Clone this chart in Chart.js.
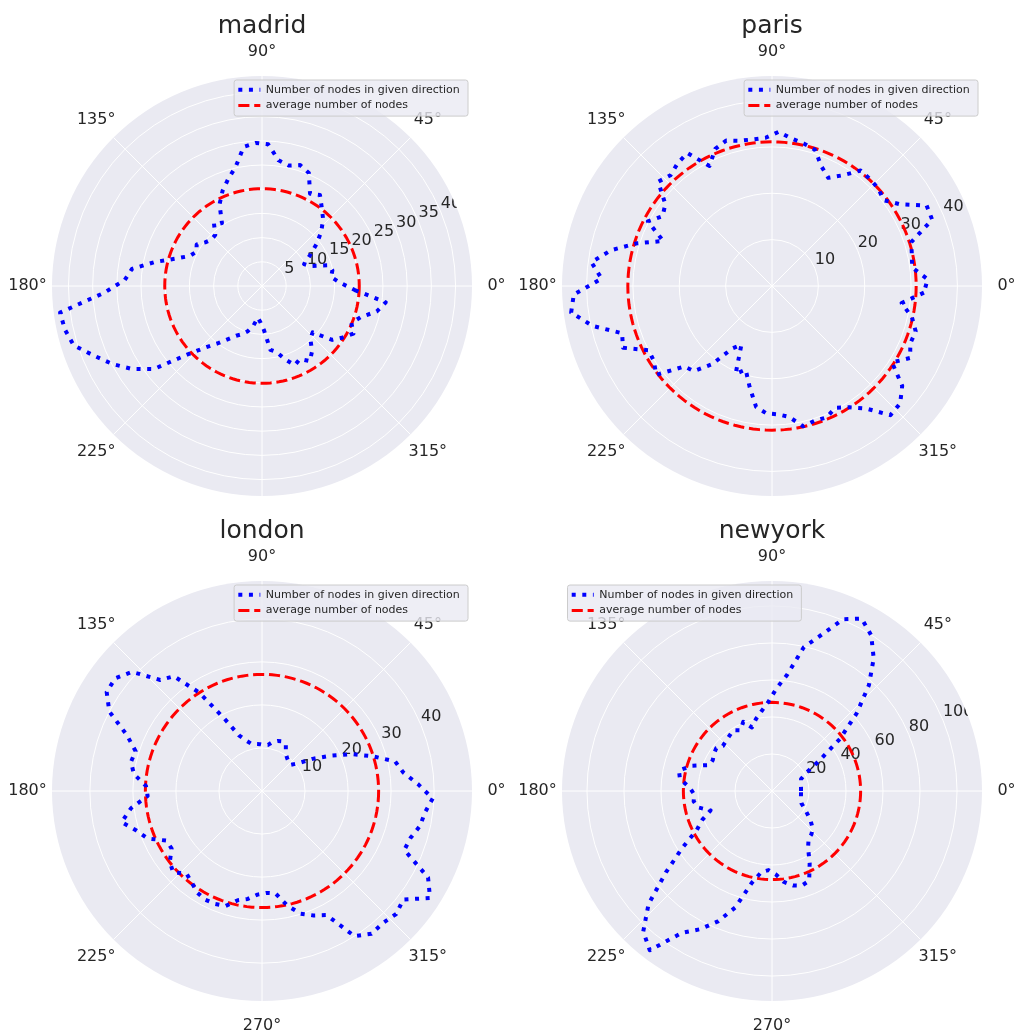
<!DOCTYPE html>
<html>
<head>
<meta charset="utf-8">
<title>nodes per direction</title>
<script src="https://cdn.jsdelivr.net/npm/chart.js@4.4.1/dist/chart.umd.min.js"></script>
<style>
  html, body { margin: 0; padding: 0; background: #ffffff; }
  #page { position: relative; width: 1015px; height: 1032px; overflow: hidden; }
  #page canvas { position: absolute; }
</style>
</head>
<body>
<div id="page">
  <canvas id="madrid" width="510" height="505" style="left:0;top:0"></canvas>
  <canvas id="paris" width="505" height="505" style="left:510px;top:0"></canvas>
  <canvas id="london" width="510" height="527" style="left:0;top:505px"></canvas>
  <canvas id="newyork" width="505" height="527" style="left:510px;top:505px"></canvas>
</div>
<script>
"use strict";

// direction bins (bin centres, degrees, counter-clockwise from east)
const bins = [2.5, 7.5, 12.5, 17.5, 22.5, 27.5, 32.5, 37.5, 42.5, 47.5, 52.5, 57.5,
    62.5, 67.5, 72.5, 77.5, 82.5, 87.5, 92.5, 97.5, 102.5, 107.5, 112.5, 117.5,
    122.5, 127.5, 132.5, 137.5, 142.5, 147.5, 152.5, 157.5, 162.5, 167.5, 172.5, 177.5,
    182.5, 187.5, 192.5, 197.5, 202.5, 207.5, 212.5, 217.5, 222.5, 227.5, 232.5, 237.5,
    242.5, 247.5, 252.5, 257.5, 262.5, 267.5, 272.5, 277.5, 282.5, 287.5, 292.5, 297.5,
    302.5, 307.5, 312.5, 317.5, 322.5, 327.5, 332.5, 337.5, 342.5, 347.5, 352.5, 357.5];

const madridNodes = [16.1, 14.4, 14.9, 14.2, 10.8, 9.8, 11.7, 14.2, 16.6, 18.7, 20.3, 22.3,
    21.5, 25.3, 26.2, 25.5, 26.2, 29.3, 29.6, 29.0, 25.2, 23.2, 21.3, 19.0,
    15.4, 16.3, 14.3, 14.2, 14.8, 16.0, 15.3, 16.2, 18.8, 22.8, 27.1, 28.4,
    32.7, 42.1, 41.7, 40.8, 37.6, 34.9, 31.9, 28.2, 21.0, 17.2, 14.9, 13.0,
    11.6, 10.8, 9.8, 8.5, 6.6, 7.5, 9.1, 13.3, 14.0, 15.9, 17.7, 17.0,
    18.4, 17.0, 14.8, 14.2, 18.3, 19.8, 21.3, 20.0, 21.4, 24.3, 25.8, 19.2];
const madridAvg = 20.1;

const parisNodes = [33.6, 30.5, 30.9, 31.5, 37.4, 37.6, 32.8, 30.4, 31.1, 31.3, 31.4, 28.3,
    26.3, 27.9, 30.8, 31.5, 32.1, 33.3, 32.0, 31.9, 32.1, 32.9, 32.0, 29.2,
    34.0, 33.4, 32.4, 33.3, 29.0, 28.0, 30.2, 25.4, 30.6, 35.6, 39.3, 36.8,
    42.8, 43.7, 39.7, 33.9, 34.8, 30.0, 30.2, 31.5, 25.7, 24.9, 21.3, 16.0,
    14.3, 20.5, 18.9, 22.3, 26.3, 27.5, 27.7, 28.5, 31.0, 30.5, 30.7, 29.6,
    31.0, 33.3, 37.8, 37.5, 35.4, 30.7, 33.6, 32.3, 32.5, 30.9, 28.2, 32.8];
const parisAvg = 31.1;

const londonNodes = [36.3, 33.1, 31.7, 26.9, 22.4, 17.7, 13.9, 10.6, 9.0, 9.2, 9.6, 10.3,
    12.0, 12.5, 12.2, 11.7, 10.8, 10.7, 10.9, 11.0, 11.2, 12.3, 14.0, 19.0,
    27.1, 33.6, 35.0, 41.0, 43.0, 42.8, 40.0, 34.0, 30.8, 31.2, 30.0, 27.0,
    26.6, 30.7, 33.4, 30.6, 28.8, 25.0, 24.9, 27.0, 28.0, 26.0, 26.8, 28.0,
    28.5, 28.4, 28.0, 26.0, 25.3, 24.1, 23.7, 24.0, 27.3, 29.9, 31.3, 32.5,
    40.0, 41.8, 41.6, 42.3, 41.4, 46.3, 43.5, 35.8, 36.2, 37.6, 38.2, 39.7];
const londonAvg = 27.1;

const newyorkNodes = [15.7, 15.8, 16.0, 16.5, 17.0, 20.5, 30.0, 46.3, 62.0, 77.5, 90.3, 99.8,
    105.0, 100.5, 88.4, 79.7, 63.5, 55.5, 48.0, 43.5, 39.9, 36.0, 40.5, 37.0,
    39.0, 37.7, 36.8, 36.0, 38.0, 37.2, 36.1, 36.6, 45.3, 51.5, 50.2, 44.6,
    42.1, 42.7, 41.0, 34.8, 40.8, 45.9, 57.7, 72.3, 90.5, 103.0, 108.5, 91.0,
    84.2, 76.3, 66.0, 51.0, 44.2, 42.8, 45.0, 49.6, 52.3, 53.6, 52.5, 44.1,
    36.3, 32.5, 31.6, 29.8, 26.3, 22.5, 19.5, 17.2, 16.3, 16.0, 15.8, 15.7];
const newyorkAvg = 47.9;

const madridTicks = [5, 10, 15, 20, 25, 30, 35, 40];
const parisTicks = [10, 20, 30, 40];
const londonTicks = [10, 20, 30, 40];
const newyorkTicks = [20, 40, 60, 80, 100];

const thetaTicks = [0, 45, 90, 135, 180, 225, 270, 315];
const thetaTickLabels = ["0°", "45°", "90°", "135°", "180°", "225°", "270°", "315°"];

const seriesLabel = "Number of nodes in given direction";
const avgLabel = "average number of nodes";

// ---------------------------------------------------------------------------

const TEXT = "#262626";
const STEP = 2.5;                    // angular resolution of the radar slots
const SLOTS = 360 / STEP;
const RLABEL_ANGLE = 22.5;
const LEG_PAD = 4.7;

Chart.defaults.font.family = "'DejaVu Sans', sans-serif";

// slot index -> direction; radar runs clockwise from east, matplotlib counter-clockwise
const slotOf = deg => Math.round(((360 - deg) % 360) / STEP) % SLOTS;
const slotLabels = Array.from({ length: SLOTS }, (_, j) => String((360 - j * STEP) % 360));

function toSlots(values) {
    const out = new Array(SLOTS).fill(null);
    bins.forEach((deg, k) => { out[slotOf(deg)] = values[k]; });
    return out;
}

const polarText = {
    id: "polarText",
    beforeDraw(chart) {
        const r = chart.scales.r;
        const ctx = chart.ctx;
        ctx.save();
        ctx.font = "16px 'DejaVu Sans'";
        ctx.fillStyle = TEXT;
        ctx.textAlign = "center";
        ctx.textBaseline = "middle";
        thetaTicks.forEach((deg, i) => {
            const p = r.getPointPosition(slotOf(deg), r.drawingArea + 24.5);
            ctx.fillText(thetaTickLabels[i], p.x, p.y);
        });
        ctx.restore();
    },
    beforeDatasetsDraw(chart, args, opts) {
        const r = chart.scales.r;
        const ctx = chart.ctx;
        ctx.save();
        ctx.beginPath();
        ctx.arc(r.xCenter, r.yCenter, r.drawingArea, 0, Math.PI * 2);
        ctx.clip();
        ctx.font = "16px 'DejaVu Sans'";
        ctx.fillStyle = TEXT;
        ctx.textAlign = "left";
        ctx.textBaseline = "bottom";
        opts.ticks.forEach(v => {
            const p = r.getPointPosition(slotOf(RLABEL_ANGLE), r.getDistanceFromCenterForValue(v));
            ctx.fillText(String(v), p.x, p.y);
        });
        ctx.restore();
    },
    afterLayout(chart, args, opts) {
        const r = chart.scales.r;
        const lg = chart.legend;
        if (!lg || !lg.columnSizes || !lg.columnSizes.length) return;
        const w = LEG_PAD + lg.columnSizes[0].width + 3.3 + 4.4;
        const h = 3 * LEG_PAD + 22;
        const x = opts.legendSide === "left"
            ? r.xCenter - r.drawingArea + 5
            : r.xCenter + r.drawingArea - 4.5 - w;
        const y = r.yCenter - r.drawingArea + 3.5;
        lg.left = x; lg.right = x + lg.width;
        lg.top = y; lg.bottom = y + 200;
        lg._frame = { x, y, w, h };
        if (!lg._framed) {
            const baseDraw = lg.draw;
            lg.draw = function (area) {
                const f = this._frame;
                const c = this.ctx;
                c.save();
                c.beginPath();
                if (c.roundRect) c.roundRect(f.x + 0.5, f.y + 0.5, f.w, f.h, 2.5);
                else c.rect(f.x + 0.5, f.y + 0.5, f.w, f.h);
                c.fillStyle = "rgba(234, 234, 242, 0.8)";
                c.fill();
                c.lineWidth = 1;
                c.strokeStyle = "#cccccc";
                c.stroke();
                c.restore();
                baseDraw.call(this, area);
            };
            lg._framed = true;
        }
    }
};

function legendItems(chart) {
    return chart.data.datasets.map((ds, i) => ({
        text: ds.label,
        fillStyle: "rgba(0,0,0,0)",
        strokeStyle: ds.borderColor,
        lineWidth: ds.borderWidth,
        lineDash: ds.borderDash,
        lineCap: "butt",
        pointStyle: "line",
        fontColor: TEXT,
        hidden: false,
        datasetIndex: i
    }));
}

function drawCity(canvasId, title, nodes, avg, max, ticks, legendSide) {
    const canvas = document.getElementById(canvasId);
    const cw = canvas.width;
    const ch = canvas.height;
    return new Chart(canvas.getContext("2d"), {
        type: "radar",
        data: {
            labels: slotLabels,
            datasets: [
                {
                    label: seriesLabel,
                    data: toSlots(nodes),
                    borderColor: "#0000ff",
                    borderWidth: 4,
                    borderDash: [4, 6.6],
                    borderCapStyle: "butt",
                    borderJoinStyle: "round",
                    backgroundColor: "rgba(0,0,0,0)",
                    fill: false,
                    spanGaps: true,
                    pointRadius: 0
                },
                {
                    label: avgLabel,
                    data: new Array(SLOTS).fill(avg),
                    borderColor: "#ff0000",
                    borderWidth: 3,
                    borderDash: [11.1, 4.8],
                    borderCapStyle: "butt",
                    backgroundColor: "rgba(0,0,0,0)",
                    fill: false,
                    pointRadius: 0
                }
            ]
        },
        options: {
            responsive: false,
            animation: false,
            events: [],
            layout: { padding: { left: 52, right: cw - 472, top: 0, bottom: ch - 496 } },
            elements: { line: { tension: 0 } },
            scales: {
                r: {
                    min: 0,
                    max: max,
                    startAngle: 90,
                    backgroundColor: "#eaeaf2",
                    grid: { circular: true, color: "#ffffff", lineWidth: 1 },
                    angleLines: {
                        display: true,
                        color: "#ffffff",
                        lineWidth: ctx => (ctx.index % (45 / STEP) === 0 ? 1 : 0)
                    },
                    pointLabels: { display: false },
                    ticks: { display: false, stepSize: ticks[1] - ticks[0], includeBounds: false }
                }
            },
            plugins: {
                title: {
                    display: true,
                    text: title,
                    color: TEXT,
                    font: { size: 25, weight: "normal" },
                    padding: { top: 11.35, bottom: 34.65 }
                },
                legend: {
                    position: "chartArea",
                    align: "start",
                    labels: {
                        usePointStyle: true,
                        pointStyleWidth: 22,
                        font: { size: 11 },
                        color: TEXT,
                        padding: LEG_PAD,
                        generateLabels: legendItems
                    }
                },
                tooltip: { enabled: false },
                polarText: { ticks: ticks, legendSide: legendSide }
            }
        },
        plugins: [polarText]
    });
}

drawCity("madrid", "madrid", madridNodes, madridAvg, 43.4, madridTicks, "right");
drawCity("paris", "paris", parisNodes, parisAvg, 45.3, parisTicks, "right");
drawCity("london", "london", londonNodes, londonAvg, 48.8, londonTicks, "right");
drawCity("newyork", "newyork", newyorkNodes, newyorkAvg, 113.5, newyorkTicks, "left");
</script>
</body>
</html>
